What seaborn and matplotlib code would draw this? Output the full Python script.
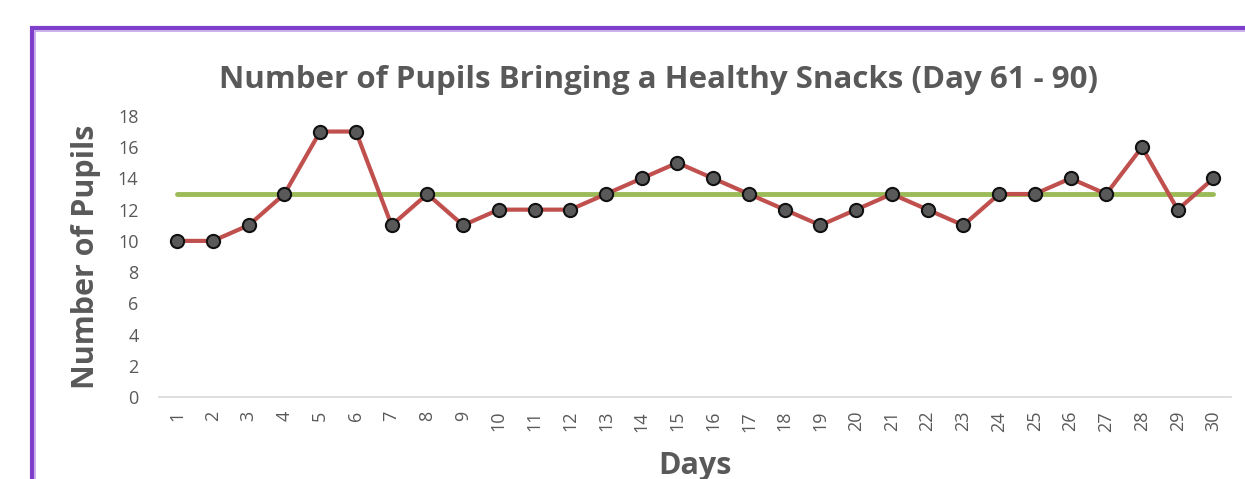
import matplotlib
matplotlib.use("Agg")
import matplotlib.pyplot as plt
from matplotlib.patches import Rectangle
import seaborn as sns

days = list(range(1, 31))
pupils = [10, 10, 11, 13, 17, 17, 11, 13, 11, 12,
          12, 12, 13, 14, 15, 14, 13, 12, 11, 12,
          13, 12, 11, 13, 13, 14, 13, 16, 12, 14]
average = [13] * len(days)
y_ticks = list(range(0, 19, 2))

TEXT = "#595959"

sns.set_theme(style="white")
plt.rcParams["font.family"] = ["Open Sans", "DejaVu Sans"]

fig = plt.figure(figsize=(12.45, 4.79), dpi=100)
ax = fig.add_axes([0.128, 0.171, 0.861, 0.587])

sns.lineplot(x=days, y=average, color="#9BBB59", linewidth=3.5, ax=ax)
sns.lineplot(x=days, y=pupils, color="#C0504D", linewidth=3, marker="o",
             markersize=9.5, markerfacecolor="#595959", markeredgecolor="#111111",
             markeredgewidth=1.5, ax=ax)

ax.set_xlim(0.5, 30.5)
ax.set_ylim(0, 18)
ax.set_yticks(y_ticks)
ax.set_xticks(days)
ax.set_xticklabels([str(d) for d in days], rotation=90)
ax.tick_params(axis="both", labelsize=13, colors=TEXT, length=0)
ax.tick_params(axis="y", pad=15)
ax.tick_params(axis="x", pad=10)

for side in ["top", "right", "left"]:
    ax.spines[side].set_visible(False)
ax.spines["bottom"].set_color("#D9D9D9")
ax.spines["bottom"].set_linewidth(1.2)

# title is centred on the whole chart box, not on the plot area
ax.set_title("Number of Pupils Bringing a Healthy Snacks (Day 61 - 90)",
             fontsize=22.5, fontweight="bold", color=TEXT, pad=20, x=0.4655)
ax.set_xlabel("Days", fontsize=22, fontweight="bold", color=TEXT, labelpad=14)
ax.set_ylabel("Number of Pupils", fontsize=22, fontweight="bold", color=TEXT, labelpad=12)

# purple frame around the chart
fig.patches.append(Rectangle((32 / 1245, -0.2), 1.2, 1.2 - 28 / 479,
                             transform=fig.transFigure, fill=False,
                             edgecolor="#7E3FCB", linewidth=3, clip_on=False))
fig.patches.append(Rectangle((35 / 1245, -0.2), 1.2, 1.2 - 31 / 479,
                             transform=fig.transFigure, fill=False,
                             edgecolor="#C3A3EA", linewidth=1.2, clip_on=False))

fig.savefig("out.png", dpi=100)
